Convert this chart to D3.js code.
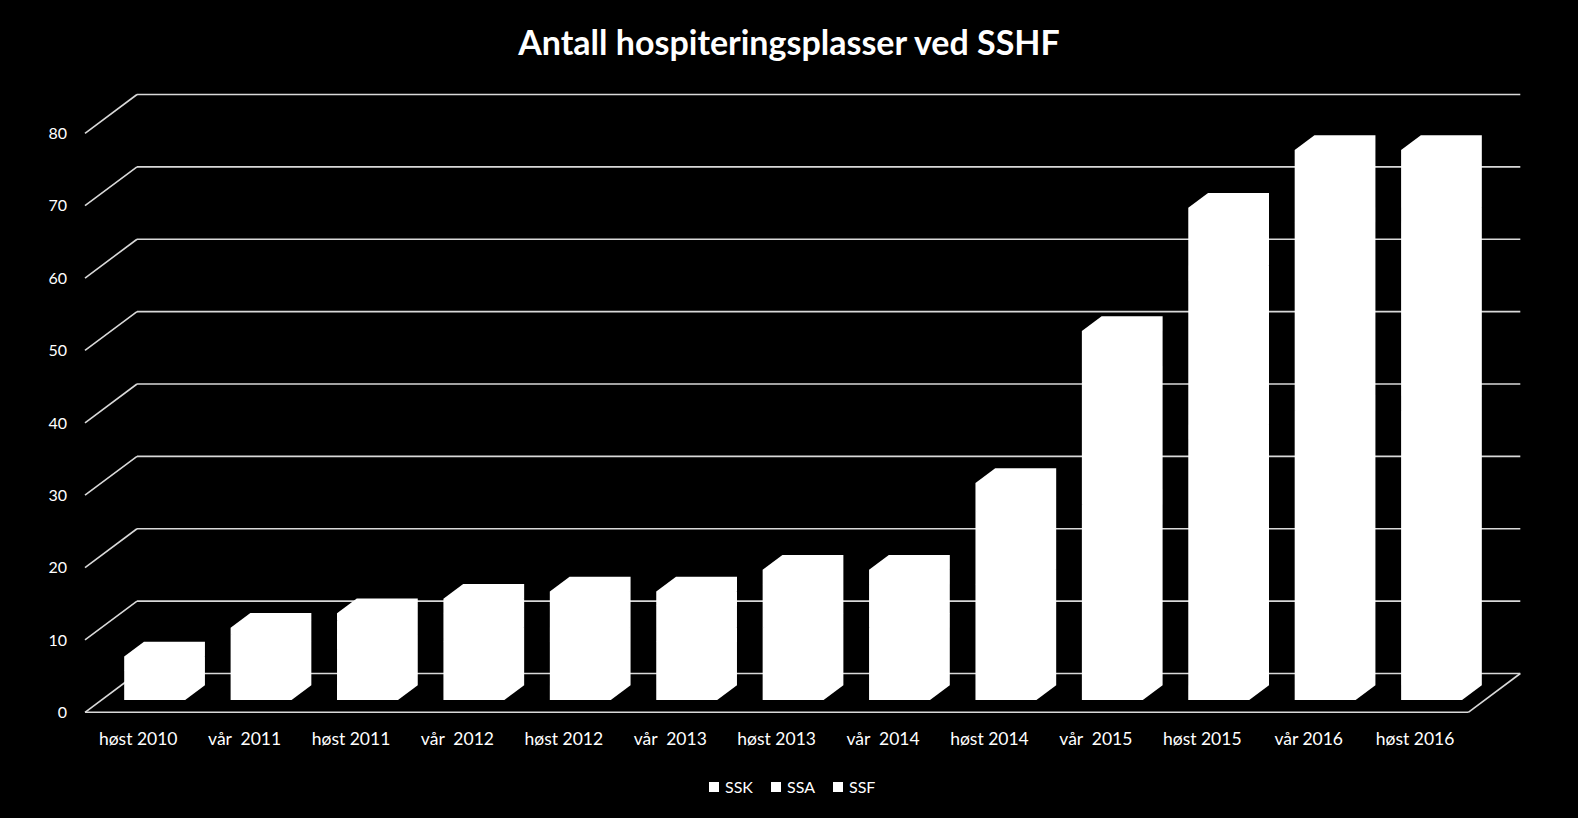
<!DOCTYPE html>
<html>
<head>
<meta charset="utf-8">
<script src="https://cdn.jsdelivr.net/npm/d3@7"></script>
<style>
  html, body { margin: 0; padding: 0; background: #000; }
  svg { display: block; }
  text { font-family: Lato, "Open Sans", sans-serif; fill: #fff; }
</style>
</head>
<body>
<svg id="chart" width="1578" height="818"></svg>
<script>
// ---- data ----
const categories = ["høst 2010", "vår  2011", "høst 2011", "vår  2012", "høst 2012", "vår  2013",
  "høst 2013", "vår  2014", "høst 2014", "vår  2015", "høst 2015", "vår 2016", "høst 2016"];
const seriesNames = ["SSK", "SSA", "SSF"];
const SSK = [4, 6, 7, 8, 8, 8, 10, 10, 16, 27, 36, 40, 40];
const SSA = [2, 3, 4, 4, 5, 5, 6, 6, 10, 17, 22, 26, 26];
const SSF = [0, 1, 1, 2, 2, 2, 2, 2, 4, 7, 10, 10, 10];
const yTicks = [0, 10, 20, 30, 40, 50, 60, 70, 80];
const titleText = "Antall hospiteringsplasser ved SSHF";

// ---- layout ----
const svg = d3.select("#chart");
const W = 1578, H = 818;
svg.append("rect").attr("width", W).attr("height", H).attr("fill", "#000");

const frontLeft = 85, frontRight = 1468.3;
const DX = 52, DY = 38.8;           // depth offset of back wall
const barFront = 0.317, barDepth = 0.38;

const x = d3.scaleBand().domain(categories).range([frontLeft, frontRight])
  .paddingInner(0.427).paddingOuter(0.2135);
const y = d3.scaleLinear().domain([0, 80]).range([712.3, 133.3]);

const gridColor = "#d9d9d9";
const grid = svg.append("g").attr("stroke", gridColor).attr("stroke-width", 1.6).attr("fill", "none");

// back wall gridlines
grid.selectAll("line.back").data(yTicks).join("line")
  .attr("x1", frontLeft + DX).attr("x2", frontRight + DX)
  .attr("y1", d => y(d) - DY).attr("y2", d => y(d) - DY);
// left wall diagonals
grid.selectAll("line.side").data(yTicks).join("line")
  .attr("x1", frontLeft).attr("y1", d => y(d))
  .attr("x2", frontLeft + DX).attr("y2", d => y(d) - DY);

// stacked data
const rows = categories.map((c, i) => ({ cat: c, SSK: SSK[i], SSA: SSA[i], SSF: SSF[i] }));
const stack = d3.stack().keys(seriesNames)(rows);

const bars = svg.append("g").attr("fill", "#fff");
const fx = barFront * DX, fy = barFront * DY;
const bx = barDepth * DX, by = barDepth * DY;
stack.forEach(layer => {
  bars.selectAll(null).data(layer).join("path")
    .attr("d", d => {
      const xl = x(d.data.cat) + fx, xr = xl + x.bandwidth();
      const y0 = y(d[0]) - fy, y1 = y(d[1]) - fy;
      if (d[1] - d[0] <= 0) return "";
      return `M${xl},${y0}L${xl},${y1}L${xl + bx},${y1 - by}L${xr + bx},${y1 - by}L${xr + bx},${y0 - by}L${xr},${y0}Z`;
    });
});

// floor front & right edge
const floor = svg.append("g").attr("stroke", gridColor).attr("stroke-width", 1.6).attr("fill", "none");
floor.append("line").attr("x1", frontLeft).attr("x2", frontRight).attr("y1", y(0)).attr("y2", y(0));
floor.append("line").attr("x1", frontRight).attr("y1", y(0)).attr("x2", frontRight + DX).attr("y2", y(0) - DY);

// y tick labels
svg.append("g").selectAll("text").data(yTicks).join("text")
  .attr("x", 67).attr("y", d => y(d)).attr("dy", "0.36em")
  .attr("text-anchor", "end").attr("font-size", 16).text(d => d);

// category labels
svg.append("g").selectAll("text").data(categories).join("text")
  .attr("x", d => x(d) + x.bandwidth() / 2).attr("y", 745)
  .attr("text-anchor", "middle").attr("font-size", 17.5)
  .style("white-space", "pre").attr("xml:space", "preserve").text(d => d);

// title
svg.append("text").attr("x", 789).attr("y", 55).attr("text-anchor", "middle")
  .attr("font-size", 34).attr("font-weight", "bold").text(titleText);

// legend
const legendX = [709, 771, 833];
const lg = svg.append("g");
seriesNames.forEach((s, i) => {
  lg.append("rect").attr("x", legendX[i]).attr("y", 782).attr("width", 10).attr("height", 10).attr("fill", "#fff");
  lg.append("text").attr("x", legendX[i] + 16).attr("y", 792.5).attr("font-size", 16).text(s);
});
</script>
</body>
</html>
